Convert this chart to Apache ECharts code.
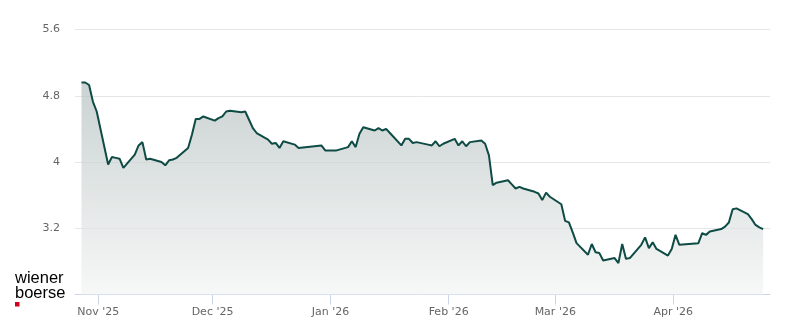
<!DOCTYPE html>
<html>
<head>
<meta charset="utf-8">
<script src="https://cdn.jsdelivr.net/npm/echarts@6/dist/echarts.min.js"></script>
<style>
  html, body { margin: 0; padding: 0; background: #ffffff; }
  #chart { width: 800px; height: 324px; }
</style>
</head>
<body>
<div id="chart"></div>
<script>
const dates = [
  '2025-10-27','2025-10-28','2025-10-29','2025-10-30','2025-10-31',
  '2025-11-03','2025-11-04','2025-11-05','2025-11-06','2025-11-07',
  '2025-11-10','2025-11-11','2025-11-12','2025-11-13','2025-11-14',
  '2025-11-17','2025-11-18','2025-11-19','2025-11-20','2025-11-21',
  '2025-11-24','2025-11-25','2025-11-26','2025-11-27','2025-11-28',
  '2025-12-01','2025-12-02','2025-12-03','2025-12-04','2025-12-05',
  '2025-12-08','2025-12-09','2025-12-10','2025-12-11','2025-12-12',
  '2025-12-15','2025-12-16','2025-12-17','2025-12-18','2025-12-19',
  '2025-12-22','2025-12-23','2025-12-29','2025-12-30',
  '2026-01-02','2026-01-05','2026-01-06','2026-01-07','2026-01-08','2026-01-09',
  '2026-01-12','2026-01-13','2026-01-14','2026-01-15','2026-01-16',
  '2026-01-19','2026-01-20','2026-01-21','2026-01-22','2026-01-23',
  '2026-01-26','2026-01-27','2026-01-28','2026-01-29','2026-01-30',
  '2026-02-02','2026-02-03','2026-02-04','2026-02-05','2026-02-06',
  '2026-02-09','2026-02-10','2026-02-11','2026-02-12','2026-02-13',
  '2026-02-16','2026-02-17','2026-02-18','2026-02-19','2026-02-20',
  '2026-02-23','2026-02-24','2026-02-25','2026-02-26','2026-02-27',
  '2026-03-02','2026-03-03','2026-03-04','2026-03-05','2026-03-06',
  '2026-03-09','2026-03-10','2026-03-11','2026-03-12','2026-03-13',
  '2026-03-16','2026-03-17','2026-03-18','2026-03-19','2026-03-20',
  '2026-03-23','2026-03-24','2026-03-25','2026-03-26','2026-03-27',
  '2026-03-30','2026-03-31','2026-04-01','2026-04-02',
  '2026-04-07','2026-04-08','2026-04-09','2026-04-10',
  '2026-04-13','2026-04-14','2026-04-15','2026-04-16','2026-04-17',
  '2026-04-20','2026-04-21','2026-04-22','2026-04-23','2026-04-24'
];
const prices = [
  4.96, 4.96, 4.93, 4.73, 4.61,
  3.97, 4.06, 4.05, 4.04, 3.93,
  4.09, 4.20, 4.24, 4.03, 4.04,
  4.00, 3.96, 4.02, 4.03, 4.05,
  4.17, 4.33, 4.52, 4.52, 4.55,
  4.50, 4.53, 4.55, 4.61, 4.62,
  4.60, 4.61, 4.51, 4.41, 4.35,
  4.27, 4.22, 4.23, 4.17, 4.25,
  4.21, 4.17, 4.20, 4.14,
  4.14, 4.18, 4.25, 4.18, 4.34, 4.42,
  4.38, 4.41, 4.38, 4.40, 4.35,
  4.20, 4.28, 4.28, 4.23, 4.24,
  4.21, 4.20, 4.25, 4.19, 4.22,
  4.28, 4.20, 4.25, 4.19, 4.24,
  4.26, 4.22, 4.08, 3.72, 3.75,
  3.78, 3.73, 3.68, 3.70, 3.68,
  3.64, 3.62, 3.54, 3.63, 3.58,
  3.49, 3.29, 3.27, 3.15, 3.02,
  2.88, 3.01, 2.91, 2.90, 2.81,
  2.84, 2.78, 3.01, 2.83, 2.84,
  3.00, 3.09, 2.96, 3.03, 2.95,
  2.87, 2.95, 3.12, 3.00,
  3.02, 3.14, 3.12, 3.16,
  3.19, 3.22, 3.27, 3.43, 3.44,
  3.37, 3.31, 3.24, 3.21, 3.19
];
const monthTicks = ['2025-11-01','2025-12-01','2026-01-01','2026-02-01','2026-03-01','2026-04-01'];
const monthLabels = ["Nov '25","Dec '25","Jan '26","Feb '26","Mar '26","Apr '26"];
const yMin = 2.4, yMax = 5.6, yStep = 0.8;

const toTs = (d, h) => Date.parse(d + 'T' + (h || '00:00') + ':00Z');
const seriesData = dates.map((d, i) => [toTs(d, '14:00'), prices[i]]);
const tickTs = monthTicks.map(d => toTs(d));

const chart = echarts.init(document.getElementById('chart'), null, { renderer: 'canvas' });
chart.setOption({
  animation: false,
  backgroundColor: '#ffffff',
  grid: { left: 75, right: 30, top: 29.5, bottom: 29.5, containLabel: false },
  xAxis: {
    type: 'value',
    min: Date.UTC(2025, 9, 25, 21, 10),
    max: Date.UTC(2026, 3, 26, 9, 20),
    axisLine: { show: true, lineStyle: { color: '#ccd6eb', width: 1 } },
    axisTick: { show: true, length: 10, lineStyle: { color: '#ccd6eb', width: 1 }, customValues: tickTs },
    axisLabel: {
      customValues: tickTs,
      color: '#666666', fontSize: 11, fontFamily: 'DejaVu Sans', margin: 10,
      padding: [2, 0, 0, 0],
      formatter: (v) => { const i = tickTs.indexOf(v); return i >= 0 ? monthLabels[i] : ''; }
    },
    splitLine: { show: false }
  },
  yAxis: {
    type: 'value',
    min: yMin, max: yMax, interval: yStep,
    axisLine: { show: false },
    axisTick: { show: false },
    axisLabel: {
      color: '#666666', fontSize: 11, fontFamily: 'DejaVu Sans', margin: 15,
      padding: [5, 0, 0, 0],
      showMinLabel: false,
      formatter: (v) => String(parseFloat(v.toFixed(2)))
    },
    splitLine: { show: true, lineStyle: { color: '#e6e6e6', width: 1 } }
  },
  series: [{
    type: 'line',
    data: seriesData,
    showSymbol: false,
    symbol: 'none',
    smooth: false,
    lineStyle: { color: '#0e4b45', width: 2 },
    areaStyle: {
      origin: 'start',
      color: new echarts.graphic.LinearGradient(0, 0, 0, 1, [
        { offset: 0, color: '#b4c0bf' },
        { offset: 0.5, color: '#d3dad9' },
        { offset: 1, color: '#f3f4f4' }
      ])
    }
  }],
  graphic: [
    { type: 'text', left: 15, top: 269.5, style: { text: 'wiener', font: '16.5px "Liberation Sans"', fill: '#000000' } },
    { type: 'text', left: 15, top: 285, style: { text: 'boerse', font: '16.5px "Liberation Sans"', fill: '#000000' } },
    { type: 'rect', left: 15, top: 302, shape: { width: 4.5, height: 4.5 }, style: { fill: '#d0021b' } }
  ]
});
</script>
</body>
</html>
